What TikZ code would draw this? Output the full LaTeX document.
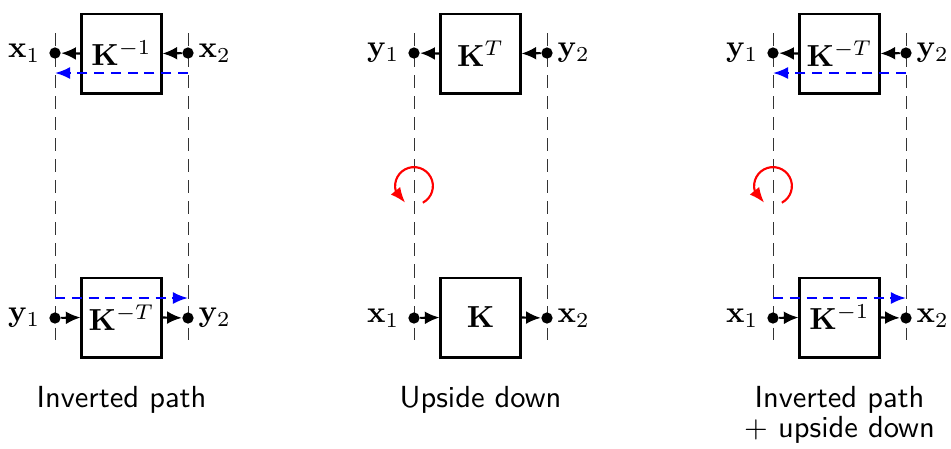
\documentclass[tikz,border=0pt]{standalone}
\usetikzlibrary{arrows.meta,bending}
\begin{document}
\begin{tikzpicture}[x=0.328pt,y=-0.328pt,
  blk/.style={draw,line width=0.7pt,minimum size=26.2pt,inner sep=0pt},
  sdot/.style={circle,fill,inner sep=0pt,minimum size=3.7pt},
  sig/.style={line width=0.7pt,-{Latex[length=4.8pt,width=4.2pt]}},
  guide/.style={line width=0.32pt,black!80,dash pattern=on 4.3pt off 2.6pt},
  flow/.style={blue,line width=0.7pt,dash pattern=on 3.3pt off 2.2pt,-{Latex[length=5pt,width=4pt]}},
  rot/.style={red,line width=0.7pt,-{Latex[length=5pt,width=4pt,flex]}},
  lbl/.style={inner sep=0pt},
  captext/.style={font=\sffamily,align=center,inner sep=0pt,anchor=north}]
\useasboundingbox (0,0) rectangle (951,448);

% ---------- Panel 1: inverted path ----------
\begin{scope}
  \coordinate (p1gLt) at (55,33);  \coordinate (p1gLb) at (55,340);
  \coordinate (p1gRt) at (188,33); \coordinate (p1gRb) at (188,340);
  \draw[guide] (p1gLt) -- (p1gLb);
  \draw[guide] (p1gRt) -- (p1gRb);
  \node[blk] (p1top) at (121.5,53.5) {$\mathbf{K}^{-1}$};
  \node[sdot] (p1tl) at (55,53) {};
  \node[sdot] (p1tr) at (188,53) {};
  \node[lbl,anchor=east] (p1tlx) at (41,53) {$\mathbf{x}_1$};
  \node[lbl,anchor=west] (p1trx) at (198,53) {$\mathbf{x}_2$};
  \draw[sig] (p1tr) -- (p1top.east);
  \draw[sig] (p1top.west) -- (p1tl);
  \coordinate (p1fa) at (188,73); \coordinate (p1fb) at (55,73);
  \draw[flow] (p1fa) -- (p1fb);

  \node[blk] (p1bot) at (121.5,317.5) {$\mathbf{K}^{-T}$};
  \node[sdot] (p1bl) at (55,318) {};
  \node[sdot] (p1br) at (188,318) {};
  \node[lbl,anchor=east] (p1blx) at (41,318) {$\mathbf{y}_1$};
  \node[lbl,anchor=west] (p1brx) at (198,318) {$\mathbf{y}_2$};
  \draw[sig] (p1bl) -- (p1bot.west);
  \draw[sig] (p1bot.east) -- (p1br);
  \coordinate (p1ga) at (55,298); \coordinate (p1gb) at (188,298);
  \draw[flow] (p1ga) -- (p1gb);

  \node[captext] (p1cap) at (121.5,385.3) {Inverted path};
\end{scope}

% ---------- Panel 2: upside down ----------
\begin{scope}
  \coordinate (p2gLt) at (414,33);  \coordinate (p2gLb) at (414,340);
  \coordinate (p2gRt) at (547,33); \coordinate (p2gRb) at (547,340);
  \draw[guide] (p2gLt) -- (p2gLb);
  \draw[guide] (p2gRt) -- (p2gRb);
  \node[blk] (p2top) at (480.5,53.5) {$\mathbf{K}^{T}$};
  \node[sdot] (p2tl) at (414,53) {};
  \node[sdot] (p2tr) at (547,53) {};
  \node[lbl,anchor=east] (p2tlx) at (400,53) {$\mathbf{y}_1$};
  \node[lbl,anchor=west] (p2trx) at (557,53) {$\mathbf{y}_2$};
  \draw[sig] (p2tr) -- (p2top.east);
  \draw[sig] (p2top.west) -- (p2tl);

  \node[blk] (p2bot) at (480.5,317.5) {$\mathbf{K}$};
  \node[sdot] (p2bl) at (414,318) {};
  \node[sdot] (p2br) at (547,318) {};
  \node[lbl,anchor=east] (p2blx) at (400,318) {$\mathbf{x}_1$};
  \node[lbl,anchor=west] (p2brx) at (557,318) {$\mathbf{x}_2$};
  \draw[sig] (p2bl) -- (p2bot.west);
  \draw[sig] (p2bot.east) -- (p2br);

  \coordinate (p2rc) at (414,186);
  \draw[rot] ([shift={(-62:6.2pt)}]p2rc) arc[start angle=-62,end angle=242,radius=6.2pt];

  \node[captext] (p2cap) at (480.5,385.3) {Upside down};
\end{scope}

% ---------- Panel 3: inverted path + upside down ----------
\begin{scope}
  \coordinate (p3gLt) at (773,33);  \coordinate (p3gLb) at (773,340);
  \coordinate (p3gRt) at (906,33); \coordinate (p3gRb) at (906,340);
  \draw[guide] (p3gLt) -- (p3gLb);
  \draw[guide] (p3gRt) -- (p3gRb);
  \node[blk] (p3top) at (839.5,53.5) {$\mathbf{K}^{-T}$};
  \node[sdot] (p3tl) at (773,53) {};
  \node[sdot] (p3tr) at (906,53) {};
  \node[lbl,anchor=east] (p3tlx) at (759,53) {$\mathbf{y}_1$};
  \node[lbl,anchor=west] (p3trx) at (916,53) {$\mathbf{y}_2$};
  \draw[sig] (p3tr) -- (p3top.east);
  \draw[sig] (p3top.west) -- (p3tl);
  \coordinate (p3fa) at (906,73); \coordinate (p3fb) at (773,73);
  \draw[flow] (p3fa) -- (p3fb);

  \node[blk] (p3bot) at (839.5,317.5) {$\mathbf{K}^{-1}$};
  \node[sdot] (p3bl) at (773,318) {};
  \node[sdot] (p3br) at (906,318) {};
  \node[lbl,anchor=east] (p3blx) at (759,318) {$\mathbf{x}_1$};
  \node[lbl,anchor=west] (p3brx) at (916,318) {$\mathbf{x}_2$};
  \draw[sig] (p3bl) -- (p3bot.west);
  \draw[sig] (p3bot.east) -- (p3br);
  \coordinate (p3ga) at (773,298); \coordinate (p3gb) at (906,298);
  \draw[flow] (p3ga) -- (p3gb);

  \coordinate (p3rc) at (773,186);
  \draw[rot] ([shift={(-62:6.2pt)}]p3rc) arc[start angle=-62,end angle=242,radius=6.2pt];

  \node[captext] (p3cap) at (839.5,385.3) {Inverted path\\[-2pt]+ upside down};
\end{scope}
\end{tikzpicture}
\end{document}
